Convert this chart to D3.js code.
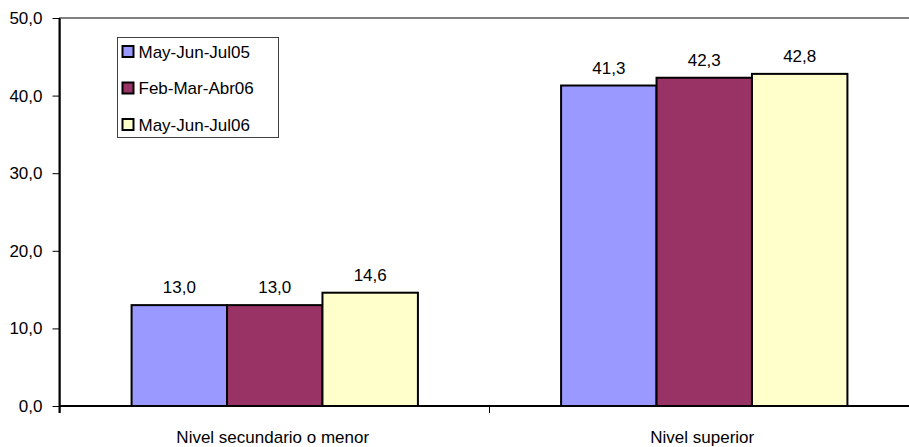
<!DOCTYPE html>
<html>
<head>
<meta charset="utf-8">
<script src="https://cdn.jsdelivr.net/npm/d3@7"></script>
<style>
  html, body { margin: 0; padding: 0; background: #fff; }
  svg { display: block; }
  text { font-family: "Liberation Sans", Arial, sans-serif; fill: #000; }
</style>
</head>
<body>
<svg id="chart" width="909" height="447"></svg>
<script>
const categories = ["Nivel secundario o menor", "Nivel superior"];
const seriesNames = ["May-Jun-Jul05", "Feb-Mar-Abr06", "May-Jun-Jul06"];
const seriesColors = ["#9999FF", "#993366", "#FFFFCC"];
const values = [
  [13.0, 41.3],
  [13.0, 42.3],
  [14.6, 42.8]
];
const yTicks = [0, 10, 20, 30, 40, 50];

(function () {
const svg = d3.select("#chart");
const pLeft = 60, pRight = 919, pTop = 18, pBottom = 406;

const x0 = d3.scaleBand().domain(categories).range([pLeft, pRight]).padding(0);
const x1 = d3.scaleBand().domain(seriesNames).range([0, x0.bandwidth()]).paddingInner(0).paddingOuter(0.75);
const y = d3.scaleLinear().domain([0, 50]).range([pBottom, pTop]);
const fmt = v => d3.format(".1f")(v).replace(".", ",");

// plot area border
svg.append("rect")
  .attr("x", pLeft).attr("y", pTop)
  .attr("width", pRight - pLeft).attr("height", pBottom - pTop)
  .attr("fill", "#fff").attr("stroke", "#808080").attr("stroke-width", 2);

// bars
seriesNames.forEach((s, si) => {
  const g = svg.append("g");
  g.selectAll("rect").data(categories).join("rect")
    .attr("x", c => x0(c) + x1(s))
    .attr("y", (c, ci) => y(values[si][ci]))
    .attr("width", x1.bandwidth())
    .attr("height", (c, ci) => y(0) - y(values[si][ci]))
    .attr("fill", seriesColors[si])
    .attr("stroke", "#000").attr("stroke-width", 2);
  g.selectAll("text").data(categories).join("text")
    .attr("x", c => x0(c) + x1(s) + x1.bandwidth() / 2)
    .attr("y", (c, ci) => y(values[si][ci]) - 12)
    .attr("text-anchor", "middle")
    .attr("font-size", 17)
    .text((c, ci) => fmt(values[si][ci]));
});

// y axis
const yAxis = d3.axisLeft(y).tickValues(yTicks).tickFormat(fmt).tickSize(7).tickPadding(10);
const ya = svg.append("g").attr("transform", `translate(${pLeft - 0.5},0)`).call(yAxis);
ya.select(".domain").attr("stroke", "#000").attr("stroke-width", 2).attr("d", `M0,${pTop}V${pBottom + 7}`);
ya.selectAll(".tick line").attr("stroke", "#000").attr("stroke-width", 1);
ya.selectAll(".tick text").attr("font-size", 17).attr("font-family", "Liberation Sans, Arial, sans-serif").attr("fill", "#000");

// x axis
const xa = svg.append("g").attr("transform", `translate(0,${pBottom})`);
xa.append("line").attr("x1", pLeft).attr("x2", pRight).attr("y1", 0).attr("y2", 0)
  .attr("stroke", "#000").attr("stroke-width", 2);
const xTickPos = [pLeft, x0(categories[1])];
xa.selectAll("line.tk").data(xTickPos).join("line").attr("class", "tk")
  .attr("x1", d => d).attr("x2", d => d).attr("y1", 0).attr("y2", 7)
  .attr("stroke", "#000").attr("stroke-width", 1);
xa.selectAll("text").data(categories).join("text")
  .attr("x", c => x0(c) + x0.bandwidth() / 2 - 2)
  .attr("y", 37)
  .attr("text-anchor", "middle")
  .attr("font-size", 17)
  .text(c => c);

// legend
const lg = svg.append("g").attr("transform", "translate(117.5,37.5)");
lg.append("rect").attr("width", 161).attr("height", 100)
  .attr("fill", "#fff").attr("stroke", "#404040").attr("stroke-width", 1);
seriesNames.forEach((s, i) => {
  const row = lg.append("g").attr("transform", `translate(0,${14 + i * 36.5})`);
  row.append("rect").attr("x", 5).attr("y", -5.5).attr("width", 11).attr("height", 11)
    .attr("fill", seriesColors[i]).attr("stroke", "#000").attr("stroke-width", 2);
  row.append("text").attr("x", 21).attr("y", 6).attr("font-size", 17).text(s);
});
})();
</script>
</body>
</html>
